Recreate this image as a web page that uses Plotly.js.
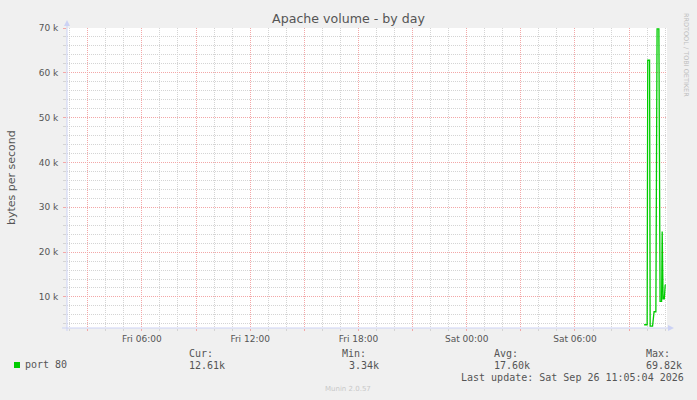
<!DOCTYPE html>
<html>
<head>
<meta charset="utf-8">
<script src="https://cdn.plot.ly/plotly-3.0.1.min.js"></script>
<style>
  html, body { margin: 0; padding: 0; background: #F0F0F0; }
  #grafico { width: 697px; height: 400px; }
</style>
</head>
<body>
<div id="grafico"></div>
<script>
// muestras (bytes por segundo)
var tiempos = [
  '2026-09-26 09:50', '2026-09-26 10:00', '2026-09-26 10:02', '2026-09-26 10:08',
  '2026-09-26 10:10', '2026-09-26 10:18', '2026-09-26 10:23', '2026-09-26 10:29',
  '2026-09-26 10:33', '2026-09-26 10:39', '2026-09-26 10:43', '2026-09-26 10:48',
  '2026-09-26 10:50', '2026-09-26 10:53', '2026-09-26 10:57', '2026-09-26 11:00',
  '2026-09-26 11:02'
];
var valores = [
  3800, 3800, 62800, 62800,
  3500, 3500, 6700, 6700,
  69800, 69800, 9000, 9000,
  24600, 9600, 9600, 12700,
  12600
];

var rangoX = ['2026-09-25 01:51', '2026-09-26 11:06'];
var rangoY = [3070, 70000];

var xTicks = [
  '2026-09-25 03:00', '2026-09-25 06:00', '2026-09-25 09:00', '2026-09-25 12:00',
  '2026-09-25 15:00', '2026-09-25 18:00', '2026-09-25 21:00', '2026-09-26 00:00',
  '2026-09-26 03:00', '2026-09-26 06:00', '2026-09-26 09:00'
];
var xEtiquetas = ['', 'Fri 06:00', '', 'Fri 12:00', '', 'Fri 18:00', '', 'Sat 00:00', '', 'Sat 06:00', ''];

var yTicks = [10000, 20000, 30000, 40000, 50000, 60000, 70000];
var yEtiquetas = ['10 k', '20 k', '30 k', '40 k', '50 k', '60 k', '70 k'];

var serie = 'port 80';
var cabeceras = ['Cur:', 'Min:', 'Avg:', 'Max:'];
var cifras = ['12.61k', '3.34k', '17.60k', '69.82k'];
var ultima = 'Last update: Sat Sep 26 11:05:04 2026';

// pixeles -> coordenadas de papel (area de trazado 67..667 x 28..328)
function px(x) { return (x - 67) / 600; }
function py(y) { return (328 - y) / 300; }

function texto(t, x, y, opciones) {
  var a = {
    text: t, xref: 'paper', yref: 'paper', x: px(x), y: py(y),
    xanchor: 'left', yanchor: 'middle', showarrow: false, xshift: -3,
    font: { family: 'DejaVu Sans Mono', size: 10, color: '#555555' }
  };
  for (var k in opciones) a[k] = opciones[k];
  return a;
}

var gris = '#D4D4D4';
var rojo = '#F3A7A7';
var eje = '#CCD2F4';

var trace = {
  x: tiempos,
  y: valores,
  type: 'scatter',
  mode: 'lines',
  line: { color: '#00CC00', width: 1.3 },
  hoverinfo: 'skip'
};

var anotaciones = [
  texto('bytes per second', 11, 178, {
    xanchor: 'center', textangle: -90, xshift: 0,
    font: { family: 'DejaVu Sans', size: 11, color: '#555555' }
  }),
  texto('RRDTOOL / TOBI OETIKER', 686, 55, {
    xanchor: 'center', textangle: 90, xshift: 0,
    font: { family: 'DejaVu Sans', size: 6.5, color: '#BEBEBE' }
  }),
  texto('Munin 2.0.57', 348, 389, {
    xanchor: 'center', xshift: 0,
    font: { family: 'DejaVu Sans', size: 7, color: '#C8C8C8' }
  }),
  texto(serie, 26, 364),
  texto(ultima, 461.5, 377)
];

var columnas = [190, 343, 495, 646.5];
var columnasValor = [190, 350, 495, 646.5];
for (var i = 0; i < cabeceras.length; i++) {
  anotaciones.push(texto(cabeceras[i], columnas[i], 353));
  anotaciones.push(texto(cifras[i], columnasValor[i], 365));
}

var formas = [
  // cuadrado de la leyenda
  {
    type: 'rect', xref: 'paper', yref: 'paper',
    xsizemode: 'pixel', ysizemode: 'pixel',
    xanchor: px(14), yanchor: py(368), x0: 0, x1: 6, y0: 0, y1: 6,
    fillcolor: '#00CC00', line: { width: 0 }
  },
  // flecha del eje y
  {
    type: 'path', xref: 'paper', yref: 'paper',
    xsizemode: 'pixel', ysizemode: 'pixel',
    xanchor: 0, yanchor: 1,
    path: 'M -3 2 L 3 2 L 0 8 Z',
    fillcolor: eje, line: { width: 0 }
  },
  // flecha del eje x
  {
    type: 'path', xref: 'paper', yref: 'paper',
    xsizemode: 'pixel', ysizemode: 'pixel',
    xanchor: 1, yanchor: 0,
    path: 'M 1 3 L 1 -3 L 7 0 Z',
    fillcolor: eje, line: { width: 0 }
  },
  // prolongacion de los ejes
  {
    type: 'line', xref: 'paper', yref: 'paper',
    x0: px(62), x1: px(670), y0: 0, y1: 0,
    line: { color: eje, width: 1 }
  },
  {
    type: 'line', xref: 'paper', yref: 'paper',
    x0: 0, x1: 0, y0: py(331), y1: py(24),
    line: { color: eje, width: 1 }
  }
];

var layout = {
  width: 697,
  height: 400,
  paper_bgcolor: '#F0F0F0',
  plot_bgcolor: '#FFFFFF',
  margin: { l: 67, r: 30, t: 28, b: 72 },
  showlegend: false,
  title: {
    text: 'Apache volume - by day',
    x: 0.5, xref: 'container', y: 1 - 19 / 400, yref: 'container',
    xanchor: 'center', yanchor: 'middle',
    font: { family: 'DejaVu Sans', size: 12.6, color: '#555555' }
  },
  xaxis: {
    type: 'date',
    range: rangoX,
    tickmode: 'array',
    tickvals: xTicks,
    ticktext: xEtiquetas,
    showgrid: true,
    gridcolor: rojo,
    griddash: '1px,1px',
    gridwidth: 1,
    ticks: 'outside',
    ticklen: 2,
    tickcolor: rojo,
    minor: {
      dtick: 3600000,
      tick0: '2026-09-25 00:00',
      showgrid: true,
      gridcolor: gris,
      griddash: '1px,1px',
      ticks: 'outside',
      ticklen: 2,
      tickcolor: gris
    },
    showline: false,
    zeroline: false,
    tickfont: { family: 'DejaVu Sans', size: 9, color: '#555555' },
    fixedrange: true
  },
  yaxis: {
    range: rangoY,
    tickmode: 'array',
    tickvals: yTicks,
    ticktext: yEtiquetas,
    showgrid: true,
    gridcolor: rojo,
    griddash: '1px,1px',
    gridwidth: 1,
    ticks: 'outside',
    ticklen: 3,
    tickcolor: rojo,
    ticklabelstandoff: 3,
    minor: {
      dtick: 2000,
      tick0: 0,
      showgrid: true,
      gridcolor: gris,
      griddash: '1px,1px',
      ticks: 'outside',
      ticklen: 3,
      tickcolor: gris
    },
    showline: false,
    zeroline: false,
    tickfont: { family: 'DejaVu Sans', size: 9, color: '#555555' },
    fixedrange: true
  },
  annotations: anotaciones,
  shapes: formas
};

Plotly.newPlot('grafico', [trace], layout, { displayModeBar: false, staticPlot: true });
</script>
</body>
</html>
